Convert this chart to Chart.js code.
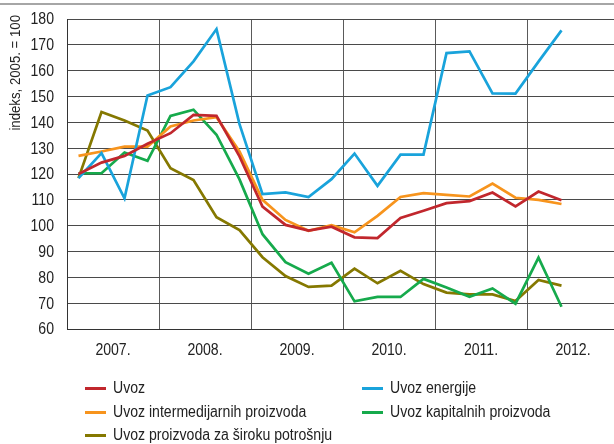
<!DOCTYPE html>
<html>
<head>
<meta charset="utf-8">
<script src="https://cdn.jsdelivr.net/npm/chart.js@4"></script>
<style>
  html, body { margin: 0; padding: 0; background: #fff; }
  #wrap { position: relative; width: 614px; height: 444px; overflow: hidden; font-family: "Liberation Sans", Arial, sans-serif; color: #222; }
  #rule { position: absolute; left: 0; top: 3px; width: 614px; height: 2px; background: #a6a6a6; }
  #c { position: absolute; left: 0; top: 0; }
  .lg { position: absolute; font-size: 16px; line-height: 18px; white-space: nowrap; }
  .lg i { position: absolute; top: 8px; height: 3px; width: 21px; }
  .lg span { position: absolute; top: 0; transform: scaleX(0.88); transform-origin: 0 50%; }
</style>
</head>
<body>
<div id="wrap">
  <div id="rule"></div>
  <canvas id="c" width="614" height="444"></canvas>
  <div id="legend"></div>
</div>
<script>
// ---- data ----
const quarters = ['2007Q1','2007Q2','2007Q3','2007Q4','2008Q1','2008Q2','2008Q3','2008Q4',
                  '2009Q1','2009Q2','2009Q3','2009Q4','2010Q1','2010Q2','2010Q3','2010Q4',
                  '2011Q1','2011Q2','2011Q3','2011Q4','2012Q1','2012Q2'];
const yearLabels = ['2007.','2008.','2009.','2010.','2011.','2012.'];
const yTicks = [60,70,80,90,100,110,120,130,140,150,160,170,180];

const uvoz          = [120.0,124.4,127.0,131.7,135.8,142.9,142.5,126.8,107.4,100.3,98.1,99.6,95.5,95.2,103.0,105.8,108.7,109.5,112.8,107.5,113.2,109.8];
const uvozEnergije  = [118.4,128.1,110.6,150.4,153.6,163.6,176.1,139.3,112.2,112.9,111.1,118.0,127.9,115.4,127.5,127.5,166.8,167.5,151.2,151.1,163.5,175.6];
const uvozInterm    = [127.0,128.7,130.6,130.6,138.4,140.7,142.0,128.7,110.0,102.2,98.0,100.2,97.4,103.8,111.1,112.6,111.9,111.3,116.3,110.8,110.0,108.4];
const uvozKapital   = [120.3,120.3,128.3,125.1,142.5,144.9,135.2,117.9,96.7,85.9,81.4,85.6,70.7,72.4,72.4,79.4,76.1,72.5,75.7,69.8,87.6,68.6];
const uvozSiroka    = [118.4,144.0,140.7,136.8,122.2,117.7,103.3,98.3,87.8,80.5,76.3,76.8,83.4,77.7,82.5,77.4,74.1,73.4,73.4,70.8,79.0,76.8];

const seriesNames  = ['Uvoz','Uvoz energije','Uvoz intermedijarnih proizvoda','Uvoz kapitalnih proizvoda','Uvoz proizvoda za široku potrošnju'];
const seriesValues = [uvoz, uvozEnergije, uvozInterm, uvozKapital, uvozSiroka];
const seriesColors = ['#c1272d','#19a3db','#f7941d','#16aa4c','#857800'];
const yTitle = 'indeks, 2005. = 100';

// ---- chart ----
const FONT = '"Liberation Sans", Arial, sans-serif';
const SX = 0.88;           // horizontal condensing of the text face
const QUARTER_PX = 23;
const xMax = (614 - 67) / QUARTER_PX;

const datasets = seriesNames.map((name, k) => ({
  label: name,
  data: seriesValues[k].map((v, i) => ({ x: i + 0.5, y: v })),
  borderColor: seriesColors[k],
  backgroundColor: seriesColors[k],
  borderWidth: 2.7,
  pointRadius: 0,
  tension: 0,
  fill: false
}));

function condensedText(ctx, text, x, y, align, size, rot) {
  ctx.save();
  ctx.translate(x, y);
  if (rot) ctx.rotate(rot);
  ctx.scale(SX, 1);
  ctx.font = size + 'px ' + FONT;
  ctx.fillStyle = '#222';
  ctx.textAlign = align;
  ctx.textBaseline = 'middle';
  ctx.fillText(text, 0, 0);
  ctx.restore();
}

const labelPlugin = {
  id: 'condensedLabels',
  afterDraw(chart) {
    const ctx = chart.ctx, xs = chart.scales.x, ys = chart.scales.y;
    yTicks.forEach(v => condensedText(ctx, String(v), 54, ys.getPixelForValue(v) + 1, 'right', 16));
    yearLabels.forEach((lab, j) => condensedText(ctx, lab, xs.getPixelForValue(4 * j + 2), xs.top + 22, 'center', 16));
    condensedText(ctx, yTitle, 15.5, 15, 'right', 15, -Math.PI / 2);
  }
};

new Chart(document.getElementById('c'), {
  type: 'line',
  data: { datasets },
  plugins: [labelPlugin],
  options: {
    responsive: false,
    animation: false,
    events: [],
    layout: { padding: { top: 19, right: 0, bottom: 0, left: 0 } },
    plugins: { legend: { display: false }, tooltip: { enabled: false } },
    scales: {
      x: {
        type: 'linear',
        min: 0,
        max: xMax,
        afterBuildTicks: s => { s.ticks = yearLabels.map((_, j) => ({ value: 4 * j })); },
        afterFit: s => { s.height = 444 - 19 - 310; },
        grid: { color: '#5a5a5a', lineWidth: 1, drawTicks: false },
        border: { display: true, color: '#333', width: 1 },
        ticks: { display: false }
      },
      y: {
        min: 60,
        max: 180,
        afterBuildTicks: s => { s.ticks = yTicks.map(v => ({ value: v })); },
        afterFit: s => { s.width = 67; },
        grid: { color: '#4a4a4a', lineWidth: 1, drawTicks: false },
        border: { display: true, color: '#333', width: 1 },
        ticks: { display: false }
      }
    }
  }
});

// ---- legend (HTML, built from the series arrays) ----
const legendPos = [
  { x: 85, y: 379 }, { x: 362, y: 379 },
  { x: 85, y: 403 }, { x: 362, y: 403 },
  { x: 85, y: 426 }
];
const lg = document.getElementById('legend');
seriesNames.forEach((name, k) => {
  const d = document.createElement('div');
  d.className = 'lg';
  d.style.left = legendPos[k].x + 'px';
  d.style.top = legendPos[k].y + 'px';
  const line = document.createElement('i');
  line.style.left = '0px';
  line.style.background = seriesColors[k];
  const t = document.createElement('span');
  t.style.left = (k % 2 === 0 ? 28 : 28) + 'px';
  t.textContent = name;
  d.appendChild(line); d.appendChild(t);
  lg.appendChild(d);
});
</script>
</body>
</html>
